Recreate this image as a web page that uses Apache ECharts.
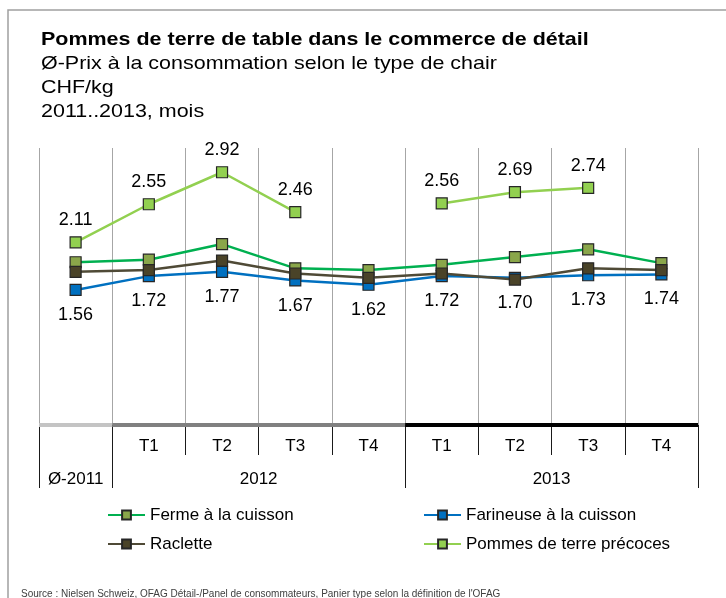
<!DOCTYPE html>
<html>
<head>
<meta charset="utf-8">
<script src="https://cdn.jsdelivr.net/npm/echarts@6/dist/echarts.min.js"></script>
<style>
  html, body { margin: 0; padding: 0; background: #fff; }
  #chart { width: 726px; height: 598px; }
</style>
</head>
<body>
<div id="chart"></div>
<script>
// categories (Ø-2011, then quarters 2012 and 2013)
const categories = ['Ø-2011', 'T1', 'T2', 'T3', 'T4', 'T1', 'T2', 'T3', 'T4'];
const yearLabels = ['Ø-2011', '2012', '2013'];
const yearLabelPos = [0.5, 3, 7];      // centre of each year block, in category units
const yearBounds = [0, 1, 5, 9];       // block borders
const yearColors = ['#c4c4c4', '#808080', '#000000'];

const ferme = [1.88, 1.91, 2.09, 1.81, 1.79, 1.85, 1.94, 2.03, 1.87];
const farineuse = [1.56, 1.72, 1.77, 1.67, 1.62, 1.72, 1.70, 1.73, 1.74];
const raclette = [1.77, 1.79, 1.90, 1.75, 1.70, 1.75, 1.68, 1.81, 1.79];
const precoces = [2.11, 2.55, 2.92, 2.46, null, 2.56, 2.69, 2.74, null];

const titleLines = [
  'Pommes de terre de table dans le commerce de détail',
  'Ø-Prix à la consommation selon le type de chair',
  'CHF/kg',
  '2011..2013, mois'
];

const font = 'Liberation Sans, Arial, sans-serif';

function lineSeries(name, data, lineColor, markerColor, label) {
  return {
    name: name,
    type: 'line',
    data: data,
    symbol: 'rect',
    symbolSize: 11,
    connectNulls: false,
    lineStyle: { color: lineColor, width: 2.5 },
    itemStyle: { color: markerColor, borderColor: '#262626', borderWidth: 1.2 },
    label: label,
    emphasis: { disabled: true },
    z: 3
  };
}

const fmt = p => p.value.toFixed(2);

// coloured base line segments for each year block
const segSeries = [];
for (let i = 0; i < yearColors.length; i++) {
  segSeries.push({
    type: 'line',
    xAxisIndex: 1,
    data: [[yearBounds[i], 0], [yearBounds[i + 1], 0]],
    symbol: 'none',
    clip: false,
    silent: true,
    lineStyle: { color: yearColors[i], width: 4 },
    z: 5
  });
}

// title block, a little wider than plain Arial like the original
const titleGraphics = titleLines.map((t, i) => ({
  type: 'text',
  silent: true,
  x: 41,
  y: 40 + i * 24,
  scaleX: 1.13,
  style: {
    text: t,
    fontFamily: font,
    fontSize: 19,
    fontWeight: i === 0 ? 'bold' : 'normal',
    fill: '#000',
    verticalAlign: 'middle'
  }
}));

const option = {
  animation: false,
  textStyle: { fontFamily: font },
  legend: [
    {
      left: 107, top: 505, orient: 'vertical', itemGap: 9, padding: 0,
      itemWidth: 37, itemHeight: 11,
      data: ['Ferme à la cuisson', 'Raclette'],
      textStyle: { fontFamily: font, fontSize: 17, color: '#000', lineHeight: 20 }
    },
    {
      left: 423, top: 505, orient: 'vertical', itemGap: 9, padding: 0,
      itemWidth: 37, itemHeight: 11,
      data: ['Farineuse à la cuisson', 'Pommes de terre précoces'],
      textStyle: { fontFamily: font, fontSize: 17, color: '#000', lineHeight: 20 }
    }
  ],
  grid: { left: 39, right: 28, top: 148, bottom: 173 },
  xAxis: [
    {
      type: 'category',
      data: categories,
      boundaryGap: true,
      axisLine: { show: false },
      axisTick: { show: true, length: 30, interval: 0, lineStyle: { color: '#1a1a1a', width: 1 } },
      axisLabel: {
        interval: 0, margin: 13, fontSize: 17, color: '#000',
        formatter: (v, i) => (i === 0 ? '' : v)
      },
      splitLine: { show: true, interval: 0, lineStyle: { color: '#a6a6a6', width: 1 } }
    },
    {
      type: 'value',
      min: 0,
      max: 9,
      position: 'bottom',
      axisLine: { show: false },
      splitLine: { show: false },
      axisTick: { show: true, length: 63, customValues: yearBounds, lineStyle: { color: '#1a1a1a', width: 1 } },
      axisLabel: {
        margin: 46, fontSize: 17, color: '#000',
        customValues: yearLabelPos,
        formatter: v => yearLabels[yearLabelPos.indexOf(v)]
      }
    }
  ],
  yAxis: {
    type: 'value', min: 0, max: 3.2, show: false,
    splitLine: { show: false }
  },
  series: [
    lineSeries('Ferme à la cuisson', ferme, '#00b050', '#8aa64a', { show: false }),
    lineSeries('Farineuse à la cuisson', farineuse, '#0070c0', '#0070c0',
      { show: true, position: 'bottom', distance: 10, fontSize: 18, color: '#000', formatter: fmt }),
    lineSeries('Raclette', raclette, '#4f4a36', '#4a4328', { show: false }),
    lineSeries('Pommes de terre précoces', precoces, '#92d050', '#92d050',
      { show: true, position: 'top', distance: 7, fontSize: 18, color: '#000', formatter: fmt })
  ].concat(segSeries),
  graphic: [
    {
      type: 'rect', silent: true, z: -10,
      shape: { x: 8, y: 10, width: 900, height: 800 },
      style: { fill: 'none', stroke: '#a0a0a0', lineWidth: 1.5 }
    },
    {
      type: 'text', left: 21, top: 589, silent: true,
      style: {
        text: "Source : Nielsen Schweiz, OFAG Détail-/Panel de consommateurs, Panier type selon la définition de l'OFAG",
        fontFamily: font, fontSize: 10, fill: '#404040'
      }
    }
  ].concat(titleGraphics)
};

const chart = echarts.init(document.getElementById('chart'));
chart.setOption(option);
</script>
</body>
</html>
